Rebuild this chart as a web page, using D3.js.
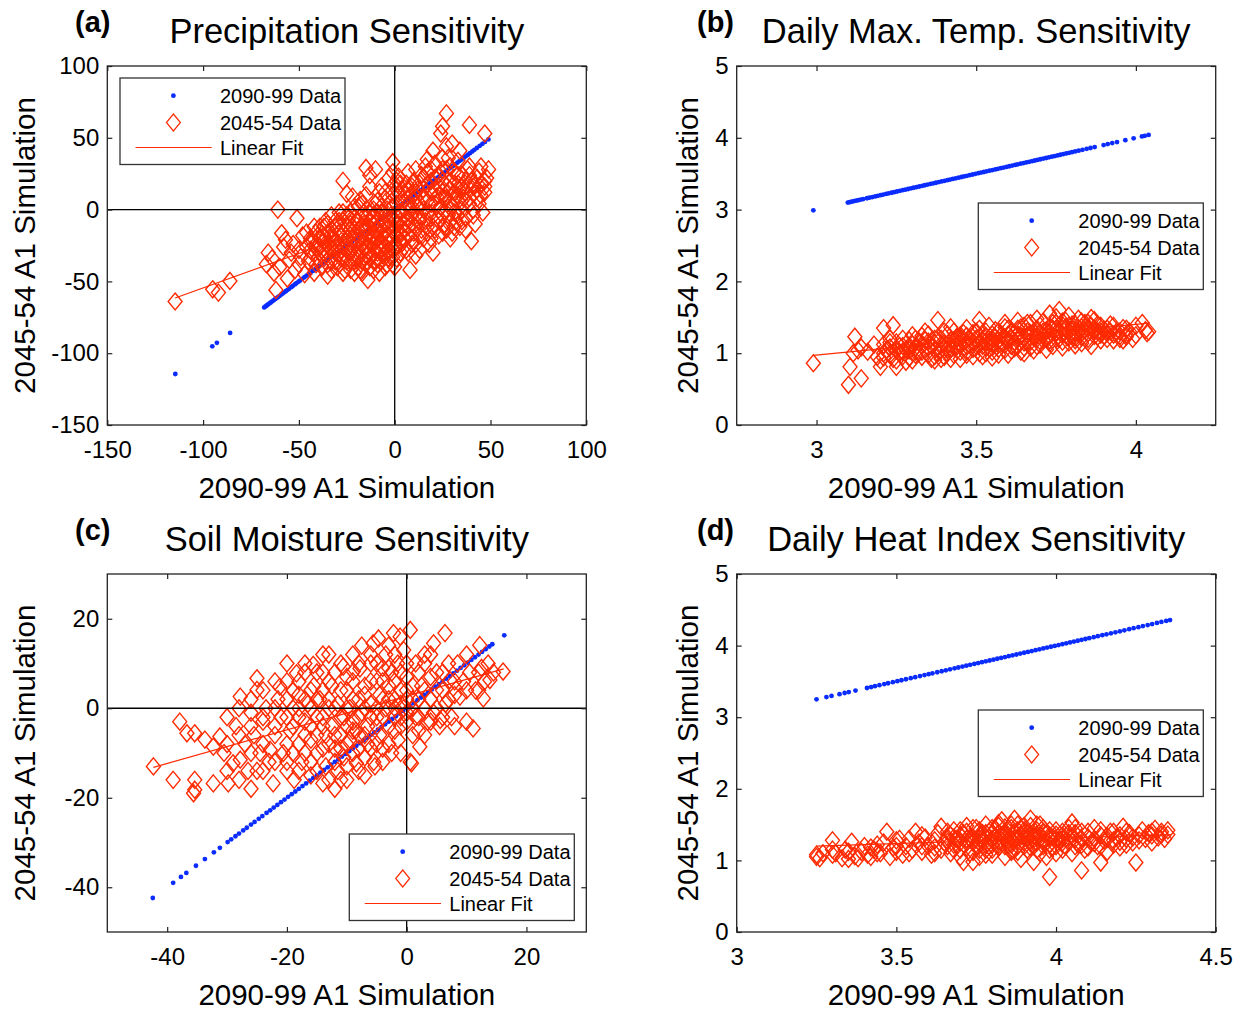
<!DOCTYPE html>
<html>
<head>
<meta charset="utf-8">
<script src="https://d3js.org/d3.v7.min.js"></script>
<style>
  body { margin: 0; background: #fff; }
  text { font-family: "Liberation Sans", Arial, sans-serif; }
</style>
</head>
<body>
<script>
var width = 1245, height = 1011;

var xLabel = "2090-99 A1 Simulation";
var yLabel = "2045-54 A1 Simulation";
var legendLabels = ["2090-99 Data", "2045-54 Data", "Linear Fit"];

// (a) precipitation
var precipTicks = [-150, -100, -50, 0, 50, 100];
var precipBlue = [-114.5, -95.2, -92.8, -85.9, -68.1, -67.4, -66.8, -66.1, -65.3, -64.7, -63.9, -63.2, -62.4, -61.6, -60.9, -60.1, -59.2, -58.5, -57.6, -56.8, -55.9, -55.1, -54.0, -53.2, -52.1, -51.3, -50.2, -49.4, -48.3, -47.1, -46.0, -44.8, -43.9, -42.7, -41.5, -40.2, -39.0, -37.8, -36.5, -35.1, -33.9, -32.4, -31.0, -29.6, -28.1, -26.7, -25.2, -23.6, -22.1, -20.4, -18.8, -17.1, -15.5, -13.8, -12.0, -10.3, -8.6, -6.9, -5.2, -3.5, -1.8, -0.4, 1.1, 2.6, 4.0, 5.5, 6.9, 8.2, 9.6, 10.9, 12.3, 13.6, 14.8, 16.1, 17.3, 18.6, 19.8, 21.0, 22.3, 23.5, 24.6, 25.8, 27.0, 28.1, 29.3, 30.4, 31.5, 32.7, 33.8, 34.9, 36.0, 37.1, 38.2, 39.3, 40.5, 41.6, 42.9, 44.4, 45.8, 47.1, 48.9];
var precipRed = [[-114.6,-64],[-95,-55.5],[-92,-57.8],[-86,-49.7],[-67,-38],[-66,-30],[-64,-34],[-62,-56],[-61,0],[-63,-44],[-60,-40],[-59,-16.5],[-58,-26],[-57,-21],[-56,-48],[-55,-35],[-54,-30],[-53,-24],[-52,-42],[-51,-6],[-50,-38],[-50,-28],[-49,-33],[-48,-18],[-47,-45],[-46,-16],[-46,-26],[-45,-36],[-44,-22],[-43,-30],[-42,-44],[-42,-12],[-41,-26],[-40,-34],[-40,-18],[-39,-12],[-38,-28],[-38,-40],[-37,-22],[-36,-8],[-36,-32],[-35,-46],[-35,-16],[-34,-26],[-33,-36],[-33,-4],[-32,-20],[-31,-30],[-31,-12],[-30,-40],[-30,-24],[-29,-8],[-29,-16],[-28,-34],[-28,-28],[-27,20],[-27,-2],[-26,-22],[-26,-42],[-25,11],[-25,-12],[-24,-30],[-24,-6],[-23,-18],[-23,-36],[-22,9],[-22,-26],[-21,-14],[-21,-44],[-20,-8],[-20,-32],[-19,-22],[-19,2],[-18,6.7],[-18,-42],[-18,-16],[-17,-28],[-17,-36],[-16,-10],[-16,-2],[-15,29],[-15,-20],[-15,-32],[-14,-49],[-14,-26],[-13,24],[-13,-12],[-13,-40],[-12,-6],[-12,-18],[-11,-30],[-11,-24],[-10,28],[-10,-14],[-10,-36],[-10,4],[-9,-8],[-9,-20],[-8,-28],[-8,-44],[-8,12],[-7,-16],[-7,-2],[-6,-24],[-6,-32],[-5,-10],[-5,8],[-4,-19],[-4,-38],[-4,0],[-3,-28],[-3,-12],[-2,-4],[-2,-22],[-1,33],[-1,-33],[-1,-14],[0,-8],[0,18],[0,-26],[0,-40],[1,-18],[1,4],[2,23],[2,11],[2,-10],[3,-30],[3,-2],[4,-23],[4,14],[5,-14],[5,6],[6,18],[6,-28],[6,-6],[7,-18],[7,26],[8,-42],[8,0],[8,10],[9,-24],[9,-10],[10,6.7],[10,-16],[10,20],[11,-4],[11,-32],[12,2],[12,14],[13,-28],[13,-5],[14,-14],[14,24],[15,8],[15,-20],[16,-8],[16,30],[17,35],[17,18],[18,-2],[18,-24],[19,12],[19,4],[20,41],[20,-30],[20,-12],[21,22],[22,9],[22,-6],[23,16],[23,-18],[24,53],[24,2],[25,58],[25,-16],[25,28],[26,8],[26,-10],[27,67],[27,16],[27,0],[28,36],[28,-4],[29,20],[29,-20],[30,46],[30,2],[30,-16],[31,12],[31,26],[32,-8],[33,6],[33,18],[34,41],[34,13.7],[34,-12],[35,24],[35,0],[36,8],[37,-6],[38,28],[38,16],[39,59],[39,4],[40,-22],[40,20],[41,11],[41,0],[42,-10],[43,14],[44,26.5],[44,4],[45,18],[46,-2],[47,53],[47,12],[48,22],[49,28],
  [-44,-28],[-44,-20],[-44,-34],[-41,-38],[-41,-24],[-41,-16],[-39,-30],[-39,-20],[-39,-26],[-37,-34],[-37,-18],[-37,-12],[-37,-27],[-35,-24],[-35,-38],[-35,-30],[-35,-10],[-33,-28],[-33,-20],[-33,-14],[-33,-42],[-31,-22],[-31,-36],[-31,-26],[-31,-8],[-29,-30],[-29,-20],[-29,-12],[-29,-38],[-29,-2],[-27,-26],[-27,-16],[-27,-34],[-27,-8],[-27,-44],[-25,-20],[-25,-28],[-25,-36],[-25,-4],[-23,-10],[-23,-24],[-23,-30],[-23,-14],[-23,-2],[-23,-42],[-21,-20],[-21,-30],[-21,-6],[-21,-36],[-21,2],[-19,-14],[-19,-28],[-19,-34],[-19,-8],[-19,-40],[-17,-20],[-17,-12],[-17,-4],[-17,-24],[-17,-44],[-17,4],[-15,-26],[-15,-14],[-15,-6],[-15,-38],[-15,10],[-13,-22],[-13,-30],[-13,-8],[-13,-2],[-13,-34],[-13,16],[-11,-10],[-11,-18],[-11,-36],[-11,0],[-11,-4],[-11,-42],[-9,-26],[-9,-14],[-9,-30],[-9,6],[-9,-2],[-9,-38],[-7,-22],[-7,-10],[-7,-28],[-7,-36],[-7,2],[-7,16],[-5,-16],[-5,-26],[-5,-4],[-5,-30],[-5,12],[-5,-40],[-3,-18],[-3,-8],[-3,-34],[-3,4],[-3,22],[-3,-24],[-1,-6],[-1,-20],[-1,-28],[-1,2],[-1,10],[-1,-38],[-1,26],[1,-10],[1,-26],[1,-4],[1,14],[1,20],[1,-34],[3,-16],[3,6],[3,-8],[3,18],[3,-22],[5,-20],[5,0],[5,-26],[5,12],[5,-10],[7,-6],[7,4],[7,-12],[7,-30],[7,14],[9,2],[9,16],[9,-4],[9,-20],[11,-12],[11,8],[11,12],[11,-24],[11,28],[13,4],[13,-8],[13,18],[13,-18],[15,0],[15,-4],[15,14],[15,22],[17,-12],[17,6],[17,26],[17,-16],[19,-6],[19,-20],[19,20],[19,28],[21,4],[21,14],[21,-14],[21,32],[23,0],[23,-8],[23,24],[23,10],[25,12],[25,-4],[25,20],[25,36],[27,8],[27,-14],[27,28],[27,44],[29,4],[29,14],[29,-8],[29,30],[31,-2],[31,18],[31,8],[31,-12],[33,10],[33,24],[33,-4],[33,34],[35,16],[35,-8],[35,6],[37,12],[37,20],[37,-14],[39,8],[39,24],[39,30],[41,18],[41,-4],[41,16],[43,22],[43,8],[45,10],[45,30],[47,16],[47,20]];
var precipFit = [[-114.6, -61.6], [49, 17]];

// (b) daily max temperature
var tmaxXTicks = [3, 3.5, 4];
var tmaxYTicks = [0, 1, 2, 3, 4, 5];
var tmaxBlue = [2.99, 3.098, 3.104, 3.11, 3.117, 3.124, 3.131, 3.139, 3.146, 3.158, 3.166, 3.175, 3.184, 3.192, 3.201, 3.209, 3.218, 3.226, 3.235, 3.243, 3.252, 3.261, 3.27, 3.278, 3.287, 3.296, 3.304, 3.313, 3.322, 3.331, 3.339, 3.348, 3.357, 3.366, 3.374, 3.383, 3.392, 3.401, 3.41, 3.418, 3.427, 3.436, 3.445, 3.454, 3.462, 3.471, 3.48, 3.489, 3.498, 3.507, 3.515, 3.524, 3.533, 3.542, 3.551, 3.56, 3.568, 3.577, 3.586, 3.595, 3.604, 3.613, 3.622, 3.63, 3.639, 3.648, 3.657, 3.666, 3.675, 3.684, 3.692, 3.701, 3.71, 3.719, 3.728, 3.737, 3.746, 3.755, 3.764, 3.773, 3.782, 3.791, 3.8, 3.81, 3.821, 3.833, 3.846, 3.858, 3.871, 3.899, 3.912, 3.926, 3.941, 3.967, 3.993, 4.019, 4.028, 4.04];
var tmaxRed = [[2.99,0.86],[3.10,0.56],[3.14,0.65],[3.105,0.81],[3.12,1.23],[3.13,1.04],[3.115,1.0],[3.14,1.08],[3.16,1.02],[3.2,0.81],[3.2,0.9],[3.21,1.35],[3.24,1.39],[3.25,0.81],[3.18,1.12],[3.19,0.95],[3.22,1.05],[3.23,1.15],[3.24,0.92],[3.26,1.0],[3.27,1.2],[3.28,0.88],[3.29,1.1],[3.3,0.9],[3.3,1.25],[3.31,1.02],[3.32,1.15],[3.33,0.95],[3.34,1.3],[3.35,1.08],[3.36,0.92],[3.37,0.9],[3.37,1.2],[3.38,1.46],[3.38,1.0],[3.39,1.12],[3.4,1.3],[3.4,0.95],[3.41,1.05],[3.42,1.18],[3.42,1.36],[3.43,0.98],[3.44,1.1],[3.45,1.25],[3.45,0.92],[3.46,1.15],[3.47,1.02],[3.47,1.35],[3.48,1.2],[3.49,0.96],[3.5,1.1],[3.5,1.3],[3.51,1.46],[3.51,1.0],[3.52,1.18],[3.53,1.24],[3.53,1.0],[3.54,1.38],[3.55,1.08],[3.55,1.2],[3.56,1.32],[3.57,1.12],[3.57,0.98],[3.58,1.26],[3.59,1.42],[3.59,1.05],[3.6,1.18],[3.6,1.34],[3.61,1.1],[3.62,1.07],[3.62,1.28],[3.63,1.45],[3.63,1.2],[3.64,1.02],[3.64,1.36],[3.65,1.15],[3.66,1.25],[3.66,1.42],[3.67,1.08],[3.68,1.04],[3.68,1.3],[3.69,1.2],[3.69,1.48],[3.7,1.12],[3.7,1.38],[3.71,1.25],[3.72,1.05],[3.72,1.32],[3.73,1.55],[3.73,1.18],[3.74,1.42],[3.74,1.1],[3.75,1.28],[3.75,1.5],[3.76,1.6],[3.76,1.2],[3.77,1.35],[3.77,1.08],[3.78,1.45],[3.78,1.25],[3.79,1.15],[3.79,1.52],[3.8,1.3],[3.8,1.4],[3.81,1.11],[3.81,1.22],[3.82,1.48],[3.82,1.35],[3.83,1.14],[3.83,1.28],[3.84,1.42],[3.85,1.2],[3.85,1.35],[3.86,1.49],[3.86,1.1],[3.87,1.3],[3.88,1.23],[3.88,1.4],[3.89,1.18],[3.9,1.33],[3.91,1.28],[3.92,1.4],[3.93,1.18],[3.94,1.3],[3.95,1.24],[3.96,1.35],[3.97,1.23],[3.98,1.3],[3.99,1.2],[4.0,1.38],[4.02,1.42],[4.03,1.32],[4.035,1.28],[4.04,1.3],[4.0,1.25],[3.96,1.18],[3.26,1.1],[3.28,1.05],[3.3,1.12],[3.32,1.0],[3.34,1.18],[3.36,1.1],[3.38,1.22],[3.4,1.14],[3.42,1.06],[3.44,1.22],[3.46,1.28],[3.48,1.12],[3.5,1.2],[3.52,1.1],[3.54,1.16],[3.56,1.22],[3.58,1.14],[3.6,1.26],[3.62,1.16],[3.64,1.24],[3.66,1.3],[3.68,1.22],[3.7,1.28],[3.72,1.2],[3.74,1.34],[3.76,1.3],[3.78,1.36],[3.8,1.24],[3.82,1.3],[3.84,1.32],[3.86,1.38],[3.88,1.3],[3.9,1.24],[3.92,1.3],[3.42,0.92],[3.52,0.96],[3.6,0.98],[3.65,1.0],[3.55,0.94],
  [3.21,1.0],[3.21,1.12],[3.21,0.94],[3.23,1.08],[3.23,0.98],[3.23,1.2],[3.25,1.04],[3.25,1.15],[3.25,0.9],[3.27,0.96],[3.27,1.1],[3.27,1.02],[3.29,1.18],[3.29,0.94],[3.29,1.04],[3.31,1.08],[3.31,1.2],[3.31,0.98],[3.33,1.1],[3.33,1.02],[3.33,1.24],[3.35,0.98],[3.35,1.16],[3.35,1.26],[3.37,1.05],[3.37,1.14],[3.37,0.96],[3.39,1.2],[3.39,1.04],[3.39,0.92],[3.41,1.12],[3.41,1.26],[3.41,1.0],[3.43,1.08],[3.43,1.18],[3.43,1.3],[3.45,1.02],[3.45,1.14],[3.45,1.2],[3.47,1.1],[3.47,1.24],[3.47,0.98],[3.49,1.16],[3.49,1.06],[3.49,1.28],[3.51,1.12],[3.51,1.22],[3.51,1.34],[3.53,1.08],[3.53,1.16],[3.53,1.3],[3.55,1.26],[3.55,1.02],[3.55,1.14],[3.57,1.18],[3.57,1.3],[3.57,1.06],[3.59,1.12],[3.59,1.22],[3.59,1.36],[3.61,1.2],[3.61,1.3],[3.61,1.04],[3.63,1.1],[3.63,1.26],[3.63,1.34],[3.65,1.22],[3.65,1.08],[3.65,1.38],[3.67,1.16],[3.67,1.28],[3.67,1.42],[3.69,1.1],[3.69,1.24],[3.69,1.34],[3.71,1.18],[3.71,1.3],[3.71,1.44],[3.73,1.24],[3.73,1.36],[3.73,1.14],[3.75,1.2],[3.75,1.34],[3.75,1.42],[3.77,1.26],[3.77,1.16],[3.77,1.44],[3.79,1.3],[3.79,1.22],[3.79,1.38],[3.81,1.28],[3.81,1.4],[3.81,1.18],[3.83,1.22],[3.83,1.36],[3.83,1.44],[3.85,1.28],[3.85,1.16],[3.85,1.42],[3.87,1.24],[3.87,1.34],[3.87,1.46],[3.89,1.3],[3.89,1.26],[3.89,1.38],[3.91,1.2],[3.91,1.34],[3.93,1.26],[3.93,1.38],[3.95,1.3],[3.95,1.2],[3.97,1.34],[3.97,1.26]];
var tmaxFit = [[2.99, 0.97], [4.04, 1.42]];

// (c) soil moisture
var soilTicks = [-40, -20, 0, 20];
var soilBlue = [-42.4, -39.0, -37.7, -36.8, -35.2, -33.7, -32.2, -31.2, -29.9, -29.3, -28.6, -28.0, -27.3, -26.7, -26.0, -25.4, -24.7, -24.1, -23.4, -22.8, -22.2, -21.6, -21.0, -20.4, -19.8, -19.2, -18.6, -18.0, -17.4, -16.8, -16.2, -15.6, -15.0, -14.4, -13.8, -13.2, -12.6, -12.0, -11.4, -10.8, -10.2, -9.6, -9.0, -8.4, -7.8, -7.2, -6.6, -6.0, -5.4, -4.8, -4.2, -3.6, -3.0, -2.4, -1.8, -1.2, -0.6, 0.0, 0.6, 1.2, 1.8, 2.4, 3.0, 3.6, 4.2, 4.8, 5.4, 6.0, 6.6, 7.2, 7.8, 8.4, 9.0, 9.6, 10.2, 10.8, 11.4, 12.0, 12.6, 13.2, 13.8, 14.3, 16.3];
var soilRed = [[-42.3,-13],[-39,-16],[-37.9,-3],[-36.7,-5.6],[-35.6,-19],[-35.4,-16],[-35.4,-5.6],[-35.4,-18.2],[-33.7,-7],[-32.3,-16.8],[-32.3,-8.6],[-31.2,-6.3],[-30.5,-10],[-29.8,-16.8],[-29,-12.3],[-28.5,-4],[-27.8,-11.5],[-27.8,2.6],[-27,-8],[-26.5,-14],[-26,-1],[-25.5,-6],[-25,-14],[-25,6.7],[-25,4.1],[-24.5,-10],[-24,-3],[-23.5,0],[-23,-12],[-22.8,-9.3],[-22.3,-16.8],[-22,-6],[-21.5,2],[-21.2,4.8],[-21,-2],[-20.6,-10],[-20,-14],[-20,6],[-19.5,-5],[-19,0],[-18.8,-16],[-18.4,7.8],[-18,-8],[-18,3],[-17.5,-12],[-17,-3],[-17,10],[-16.5,1],[-16,-7],[-16,-15],[-15.6,9.7],[-15.5,5],[-15,-10],[-15,-2],[-14.5,2],[-14,-16.8],[-14,8],[-13.5,-6],[-13.5,-13],[-13,12],[-13,0],[-12.5,-4],[-12.5,5],[-12,-9],[-12,-18],[-11.5,1],[-11.5,-14],[-11,-6],[-11,10],[-10.6,9.3],[-10.5,-2],[-10.5,-11],[-10,4],[-10,-16],[-9.5,-7],[-9.5,0],[-9,-3],[-9,12],[-8.9,8.2],[-8.4,-12.3],[-8.5,-5],[-8,2],[-8,-9],[-7.8,8.9],[-7.5,-1],[-7.5,14],[-7,-15],[-7,5],[-6.5,-4],[-6.5,-8],[-6,1],[-6,10],[-5.6,14.5],[-5.5,-12],[-5.3,-13],[-5,-2],[-5,6],[-4.7,15.6],[-4.5,3],[-4.5,-6],[-4,9],[-4,-9],[-3.5,0],[-3.5,12],[-3,-4],[-3,5],[-2.5,-10],[-2.5,8],[-2.2,16.8],[-2,2],[-2,-2],[-1.5,10],[-1.4,-7.1],[-1.1,16],[-1,4],[-1,-4],[-0.5,0],[-0.5,13],[0,7],[0,-3],[0.6,17.5],[0.8,-12.3],[0.6,-12],[1,2],[1.5,10],[1.5,-2],[2,-5],[2.2,-8.6],[2.5,5],[3,0],[3,12],[3.5,-3],[4,7],[4.5,14.5],[4.5,-1],[5,4.1],[5.5,-4],[5.6,-2.6],[6,8],[6.4,16.8],[6.5,1],[7.2,6.3],[7.5,-2],[8,3],[8.5,10],[8.9,2.6],[9.5,6],[10,-3],[10.5,8],[11.1,-4.5],[11.5,4],[12.2,14.1],[12.5,9],[12.8,2.2],[13,6],[13.6,10],[13.9,6.3],[14.5,8],[16.1,8.2],
  [-30,-2],[-30,-14],[-30,-8],[-28,-6],[-28,-16],[-28,0],[-26,-10],[-26,-4],[-26,2],[-26,-18],[-24,-8],[-24,-14],[-24,4],[-24,-2],[-22,-12],[-22,0],[-22,6],[-22,-4],[-20,-2],[-20,-8],[-20,2],[-20,10],[-20,-12],[-19,-10],[-19,4],[-19,-4],[-18,-14],[-18,-2],[-18,6],[-18,0],[-17,-6],[-17,-10],[-17,2],[-17,8],[-16,-4],[-16,4],[-16,-12],[-16,0],[-15,-6],[-15,8],[-15,2],[-15,-14],[-14,-2],[-14,-9],[-14,4],[-14,12],[-14,-4],[-13,-8],[-13,-16],[-13,6],[-13,2],[-12,0],[-12,-6],[-12,8],[-12,-12],[-11,-2],[-11,-9],[-11,4],[-11,-16],[-10,-4],[-10,0],[-10,7],[-10,-8],[-10,-13],[-9,-10],[-9,-5],[-9,2],[-9,6],[-8,-2],[-8,-6],[-8,10],[-8,-14],[-7,-11],[-7,0],[-7,3],[-7,-6],[-6,-2],[-6,6],[-6,-9],[-6,12],[-5,0],[-5,-4],[-5,-8],[-5,10],[-4,-2],[-4,2],[-4,6],[-4,-12],[-3,-8],[-3,2],[-3,9],[-3,14],[-2,-5],[-2,0],[-2,6],[-2,12],[-1,-2],[-1,1],[-1,8],[-1,-10],[0,-1],[0,2],[0,10],[0,4],[1,5],[1,-6],[1,0],[2,2],[2,8],[2,-2],[3,4],[3,-6],[3,10],[4,2],[4,-3],[4,12],[5,0],[5,8],[6,4],[6,-2],[7,2],[7,10],[8,6],[8,-4],[10,4],[10,12],[12,8],[12,4]];
var soilFit = [[-42.3, -13.2], [16.2, 8.8]];

// (d) daily heat index
var heatXTicks = [3, 3.5, 4, 4.5];
var heatYTicks = [0, 1, 2, 3, 4, 5];
var heatBlue = [3.25, 3.281, 3.297, 3.322, 3.338, 3.351, 3.372, 3.408, 3.421, 3.433, 3.447, 3.462, 3.474, 3.489, 3.503, 3.516, 3.53, 3.545, 3.559, 3.574, 3.588, 3.601, 3.613, 3.628, 3.642, 3.655, 3.668, 3.682, 3.694, 3.707, 3.719, 3.731, 3.744, 3.756, 3.768, 3.78, 3.792, 3.804, 3.816, 3.828, 3.84, 3.852, 3.864, 3.876, 3.888, 3.9, 3.912, 3.924, 3.936, 3.948, 3.96, 3.972, 3.984, 3.996, 4.008, 4.02, 4.032, 4.044, 4.056, 4.068, 4.08, 4.092, 4.104, 4.118, 4.131, 4.145, 4.158, 4.172, 4.186, 4.2, 4.214, 4.229, 4.243, 4.258, 4.272, 4.287, 4.301, 4.316, 4.33, 4.345, 4.357];
var heatRed = [[3.25,1.05],[3.25,1.08],[3.26,1.03],[3.27,1.1],[3.3,1.28],[3.31,1.1],[3.33,1.03],[3.34,1.15],[3.36,1.26],[3.37,1.06],[3.38,1.03],[3.39,1.12],[3.4,1.2],[3.41,1.08],[3.43,1.15],[3.45,1.1],[3.46,1.25],[3.47,1.4],[3.48,1.05],[3.49,1.18],[3.5,1.12],[3.51,1.3],[3.52,1.08],[3.53,1.2],[3.55,1.15],[3.56,1.4],[3.57,1.25],[3.58,1.12],[3.59,1.32],[3.6,1.2],[3.61,1.08],[3.62,1.28],[3.63,1.38],[3.64,1.47],[3.64,1.15],[3.65,1.25],[3.66,1.32],[3.67,1.1],[3.68,1.42],[3.68,1.22],[3.69,1.3],[3.7,1.15],[3.71,0.98],[3.71,1.38],[3.72,1.25],[3.72,1.48],[3.73,1.1],[3.74,0.98],[3.74,1.32],[3.75,1.2],[3.75,1.45],[3.76,1.05],[3.76,1.35],[3.77,1.28],[3.78,1.5],[3.78,1.15],[3.79,1.4],[3.8,1.22],[3.8,1.08],[3.81,1.33],[3.82,1.48],[3.82,1.18],[3.83,1.56],[3.83,1.28],[3.84,1.05],[3.84,1.4],[3.85,1.22],[3.85,1.35],[3.86,1.12],[3.86,1.5],[3.87,1.58],[3.87,1.3],[3.88,1.2],[3.88,1.42],[3.89,1.02],[3.89,1.35],[3.9,1.25],[3.9,1.48],[3.91,1.15],[3.91,1.38],[3.92,1.58],[3.92,1.28],[3.93,0.98],[3.93,1.2],[3.94,1.42],[3.94,1.32],[3.95,1.1],[3.95,1.5],[3.96,1.25],[3.97,1.38],[3.97,1.05],[3.98,0.77],[3.98,1.3],[3.99,1.18],[4.0,1.42],[4.0,1.1],[4.01,1.28],[4.02,1.35],[4.03,1.2],[4.04,1.45],[4.05,1.53],[4.05,1.1],[4.06,1.3],[4.07,1.22],[4.08,0.86],[4.08,1.4],[4.09,1.15],[4.1,1.32],[4.11,1.25],[4.12,1.45],[4.13,1.2],[4.14,0.97],[4.14,1.35],[4.15,1.28],[4.16,1.12],[4.17,1.4],[4.18,1.22],[4.19,1.32],[4.2,1.18],[4.21,1.47],[4.22,1.3],[4.23,1.38],[4.24,1.25],[4.25,0.97],[4.26,1.35],[4.27,1.42],[4.28,1.3],[4.29,1.38],[4.3,1.25],[4.31,1.44],[4.32,1.32],[4.33,1.4],[4.34,1.3],[4.35,1.36],[4.35,1.42],[3.76,1.25],[3.78,1.32],[3.8,1.38],[3.82,1.26],[3.84,1.3],[3.86,1.22],[3.88,1.32],[3.9,1.38],[3.92,1.24],[3.94,1.36],[3.96,1.3],[3.98,1.22],[3.79,1.2],[3.81,1.44],[3.85,1.28],[3.89,1.44],[3.93,1.34],[3.77,1.38],[3.83,1.35],[3.87,1.4],[3.91,1.3],[3.95,1.35],[3.99,1.32],[4.02,1.25],[4.04,1.38],[4.06,1.2],[3.73,1.3],[3.7,1.25],[3.67,1.35],[3.66,1.2],
  [3.3,1.08],[3.3,1.15],[3.35,1.12],[3.35,1.02],[3.42,1.05],[3.42,1.18],[3.44,1.22],[3.44,1.1],[3.5,1.2],[3.5,1.28],[3.54,1.1],[3.54,1.3],[3.58,1.2],[3.58,1.35],[3.62,1.18],[3.62,1.1],[3.66,1.26],[3.66,1.4],[3.68,1.15],[3.68,1.32],[3.7,1.35],[3.7,1.42],[3.7,1.05],[3.72,1.18],[3.72,1.3],[3.72,1.4],[3.74,1.25],[3.74,1.45],[3.74,1.12],[3.76,1.15],[3.76,1.42],[3.76,1.3],[3.78,1.22],[3.78,1.38],[3.78,1.08],[3.8,1.3],[3.8,1.45],[3.8,1.15],[3.82,1.22],[3.82,1.38],[3.82,1.52],[3.84,1.2],[3.84,1.35],[3.84,1.46],[3.86,1.3],[3.86,1.45],[3.86,1.15],[3.88,1.28],[3.88,1.5],[3.88,1.12],[3.9,1.2],[3.9,1.32],[3.9,1.42],[3.92,1.18],[3.92,1.35],[3.92,1.48],[3.94,1.25],[3.94,1.15],[3.94,1.5],[3.96,1.4],[3.96,1.2],[3.96,1.45],[3.98,1.35],[3.98,1.15],[3.98,1.42],[4.0,1.3],[4.0,1.2],[4.0,1.36],[4.02,1.15],[4.02,1.4],[4.02,1.3],[4.04,1.25],[4.04,1.32],[4.06,1.38],[4.06,1.45],[4.08,1.3],[4.08,1.22],[4.1,1.4],[4.1,1.18],[4.12,1.3],[4.12,1.24],[4.14,1.42],[4.14,1.2],[4.16,1.34],[4.16,1.3],[4.18,1.28],[4.18,1.4],[4.2,1.35],[4.2,1.26],[4.22,1.22],[4.22,1.4],[4.24,1.32],[4.26,1.28],[4.3,1.35],[4.3,1.4],[4.33,1.36]];
var heatFit = [[3.25, 1.20], [4.36, 1.36]];

var blueColor = "#0b2cff", redColor = "#ff2a00", frameColor = "#222";

var panels = [
  {letter: "(a)", title: "Precipitation Sensitivity", left: 107.3, right: 586.3, top: 66, bottom: 425,
   xDomain: [-150, 100], yDomain: [-150, 100], xTicks: precipTicks, yTicks: precipTicks,
   blue: precipBlue, red: precipRed, fit: precipFit, zeroLines: true, legend: [120, 78], yLabelX: 25, letterX: 75},
  {letter: "(b)", title: "Daily Max. Temp. Sensitivity", left: 736.7, right: 1215.7, top: 66, bottom: 425,
   xDomain: [2.75, 4.25], yDomain: [0, 5], xTicks: tmaxXTicks, yTicks: tmaxYTicks,
   blue: tmaxBlue, red: tmaxRed, fit: tmaxFit, zeroLines: false, legend: [978.3, 203], yLabelX: 688, letterX: 697},
  {letter: "(c)", title: "Soil Moisture Sensitivity", left: 107.3, right: 586.3, top: 574, bottom: 932,
   xDomain: [-50, 30], yDomain: [-50, 30], xTicks: soilTicks, yTicks: soilTicks,
   blue: soilBlue, red: soilRed, fit: soilFit, zeroLines: true, legend: [349.3, 834], yLabelX: 25, letterX: 75},
  {letter: "(d)", title: "Daily Heat Index Sensitivity", left: 736.7, right: 1215.7, top: 574, bottom: 932,
   xDomain: [3, 4.5], yDomain: [0, 5], xTicks: heatXTicks, yTicks: heatYTicks,
   blue: heatBlue, red: heatRed, fit: heatFit, zeroLines: false, legend: [978.3, 710], yLabelX: 688, letterX: 697}
];

var diamond = "M0,-8.5L7,0L0,8.5L-7,0Z";
var plain = function(d) { return String(d); };

var svg = d3.select("body").append("svg")
  .attr("width", width)
  .attr("height", height);

panels.forEach(function(p) {
  var x = d3.scaleLinear().domain(p.xDomain).range([p.left, p.right]);
  var y = d3.scaleLinear().domain(p.yDomain).range([p.bottom, p.top]);
  var g = svg.append("g");

  // 2090-99 data (plotted against itself)
  g.selectAll("circle.blue").data(p.blue).enter().append("circle")
    .attr("class", "blue")
    .attr("cx", function(d) { return x(d); })
    .attr("cy", function(d) { return y(d); })
    .attr("r", 2.4)
    .attr("fill", blueColor);

  // 2045-54 data
  g.selectAll("path.red").data(p.red).enter().append("path")
    .attr("class", "red")
    .attr("d", diamond)
    .attr("transform", function(d) { return "translate(" + x(d[0]) + "," + y(d[1]) + ")"; })
    .attr("fill", "none")
    .attr("stroke", redColor)
    .attr("stroke-width", 1.4);

  g.append("path")
    .datum(p.fit)
    .attr("d", d3.line().x(function(d) { return x(d[0]); }).y(function(d) { return y(d[1]); }))
    .attr("fill", "none")
    .attr("stroke", redColor)
    .attr("stroke-width", 1.2);

  if (p.zeroLines) {
    g.append("line").attr("x1", x(0)).attr("x2", x(0)).attr("y1", p.top).attr("y2", p.bottom)
      .attr("stroke", "#000").attr("stroke-width", 1.3);
    g.append("line").attr("x1", p.left).attr("x2", p.right).attr("y1", y(0)).attr("y2", y(0))
      .attr("stroke", "#000").attr("stroke-width", 1.3);
  }

  // axes, MATLAB style ticks pointing inward on all four sides
  var axes = [
    [d3.axisBottom(x).tickValues(p.xTicks).tickFormat(plain).tickSize(-5).tickPadding(16), "translate(0," + p.bottom + ")"],
    [d3.axisTop(x).tickValues(p.xTicks).tickSize(-5).tickFormat(""), "translate(0," + p.top + ")"],
    [d3.axisLeft(y).tickValues(p.yTicks).tickFormat(plain).tickSize(-5).tickPadding(8), "translate(" + p.left + ",0)"],
    [d3.axisRight(y).tickValues(p.yTicks).tickSize(-5).tickFormat(""), "translate(" + p.right + ",0)"]
  ];
  axes.forEach(function(a) {
    var ag = g.append("g").attr("transform", a[1]).call(a[0].tickSizeOuter(0));
    ag.select(".domain").remove();
    ag.selectAll("line").attr("stroke", frameColor).attr("stroke-width", 1.2);
    ag.selectAll("text")
      .attr("font-family", "Liberation Sans, Arial, sans-serif")
      .attr("font-size", 24)
      .attr("fill", "#000");
  });

  g.append("rect")
    .attr("x", p.left).attr("y", p.top)
    .attr("width", p.right - p.left).attr("height", p.bottom - p.top)
    .attr("fill", "none")
    .attr("stroke", frameColor)
    .attr("stroke-width", 1.3);

  // labels
  g.append("text")
    .attr("x", (p.left + p.right) / 2).attr("y", p.top - 23)
    .attr("text-anchor", "middle")
    .attr("font-size", 34.5)
    .text(p.title);

  g.append("text")
    .attr("x", p.letterX).attr("y", p.top - 34)
    .attr("font-family", "Liberation Serif, Times New Roman, serif")
    .attr("font-weight", "bold")
    .attr("font-size", 29)
    .text(p.letter);

  g.append("text")
    .attr("x", (p.left + p.right) / 2).attr("y", p.bottom + 73)
    .attr("text-anchor", "middle")
    .attr("font-size", 29.5)
    .text(xLabel);

  g.append("text")
    .attr("transform", "translate(" + p.yLabelX + "," + (p.top + p.bottom) / 2 + ") rotate(-90)")
    .attr("text-anchor", "middle")
    .attr("dy", "0.35em")
    .attr("font-size", 29.5)
    .text(yLabel);

  // legend
  var lx = p.legend[0], ly = p.legend[1];
  var lg = g.append("g").attr("transform", "translate(" + lx + "," + ly + ")");
  lg.append("rect")
    .attr("width", 225).attr("height", 86.5)
    .attr("fill", "#fff")
    .attr("stroke", "#333")
    .attr("stroke-width", 1.3);
  lg.append("circle").attr("cx", 53.4).attr("cy", 17.7).attr("r", 2.4).attr("fill", blueColor);
  lg.append("path").attr("d", diamond).attr("transform", "translate(53.4,44.5)")
    .attr("fill", "none").attr("stroke", redColor).attr("stroke-width", 1.2);
  lg.append("line").attr("x1", 15.5).attr("x2", 91.7).attr("y1", 69.5).attr("y2", 69.5)
    .attr("stroke", redColor).attr("stroke-width", 1.2);
  lg.selectAll("text").data(legendLabels).enter().append("text")
    .attr("x", 100)
    .attr("y", function(d, i) { return [17.7, 44.5, 69.5][i]; })
    .attr("dy", "0.36em")
    .attr("font-size", 20)
    .text(function(d) { return d; });
});
</script>
</body>
</html>
